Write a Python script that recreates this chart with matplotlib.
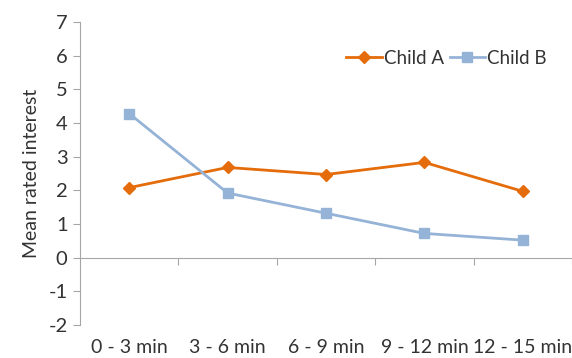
import matplotlib.pyplot as plt
import numpy as np

plt.rcParams['font.family'] = ['Lato', 'DejaVu Sans']
plt.rcParams['axes.unicode_minus'] = False

categories = ['0 - 3 min', '3 - 6 min', '6 - 9 min', '9 - 12 min', '12 - 15 min']
child_a = [2.08, 2.68, 2.47, 2.83, 1.97]
child_b = [4.28, 1.92, 1.32, 0.72, 0.52]

fig = plt.figure(figsize=(5.72, 3.58), dpi=100)
ax = fig.add_axes([80 / 572, 1 - 325 / 358, 492 / 572, 303 / 358])

x = np.arange(len(categories)) + 0.5
ax.plot(x, child_a, color='#E46C0A', lw=2, marker='D', ms=6, label='Child A')
ax.plot(x, child_b, color='#95B3D7', lw=2, marker='s', ms=7.5, label='Child B')

ax.set_xlim(0, len(categories))
ax.set_ylim(-2, 7)
ax.set_yticks(range(-2, 8))

gray = '#A6A6A6'
for s in ['top', 'right']:
    ax.spines[s].set_visible(False)
ax.spines['left'].set_color(gray)
ax.spines['bottom'].set_color(gray)
ax.spines['bottom'].set_position(('data', 0))
ax.set_xticks(range(1, len(categories) + 1))
ax.set_xticklabels([])
ax.tick_params(axis='x', colors=gray, length=5, direction='out')
ax.tick_params(axis='y', color=gray, length=5, labelcolor='#333333', labelsize=14.5, pad=4)

sec = ax.secondary_xaxis(0)
sec.set_xticks(x)
sec.set_xticklabels(categories)
sec.spines['bottom'].set_visible(False)
sec.tick_params(length=0, labelsize=14, labelcolor='#333333', pad=10)

ax.set_ylabel('Mean rated interest', fontsize=14, color='#333333', labelpad=6)

ax.legend(loc='center', bbox_to_anchor=(0.745, 0.88), ncol=2, frameon=False,
          fontsize=13.5, handlelength=1.9, handletextpad=0.1, columnspacing=0.3,
          labelcolor='#333333')

fig.savefig('out.png', dpi=100)
